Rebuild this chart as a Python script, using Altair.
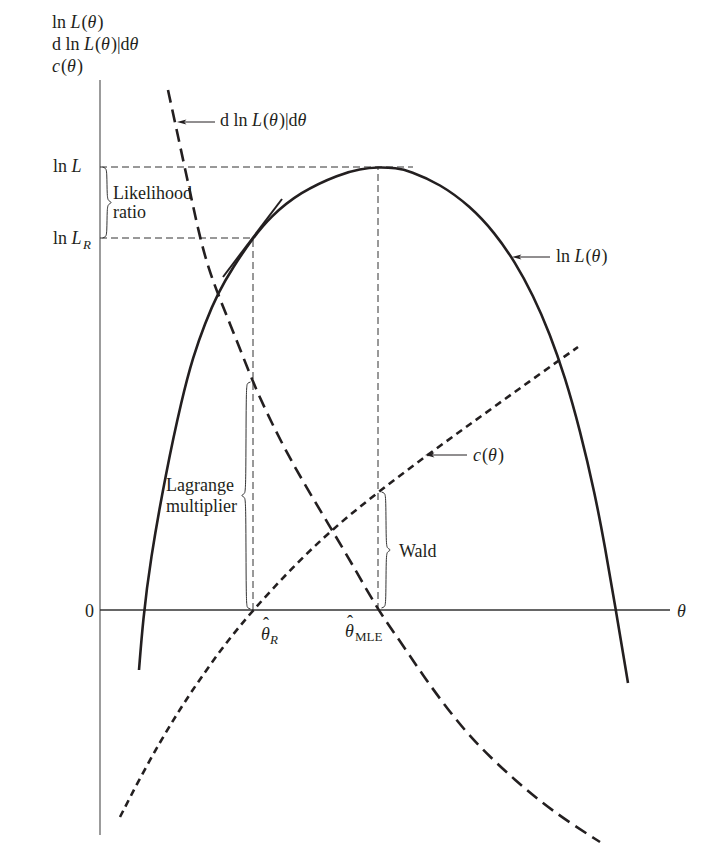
import altair as alt
import pandas as pd

# ---------------- data (diagram units: theta = distance right of the vertical axis,
#                  value = height above the theta axis) ----------------
lnL_theta = [39, 43, 50, 66, 82, 93, 105, 118, 133, 153, 170, 200, 240, 260, 278, 296, 310, 340,
             370, 395, 415, 433, 450, 465, 480, 495, 505, 515, 528]
lnL_value = [-60, -10, 48, 138, 212, 253, 287, 317, 343, 372, 393, 418, 436, 441, 443, 442, 439, 426,
             404, 377, 348, 315, 276, 233, 180, 116, 63, 5, -73]

dlnL_theta = [68, 76, 84, 92, 100, 109, 118, 130, 142, 153, 165, 190, 232, 255, 278, 300, 320, 340,
              365, 390, 415, 440, 467, 500]
dlnL_value = [520, 483, 446, 409, 372, 340, 316, 286, 256, 228, 201, 150, 80, 41, 0, -31, -61, -89,
              -121, -147, -170, -191, -211, -232]

c_theta = [20, 40, 60, 80, 100, 125, 153, 190, 230, 278, 330, 380, 430, 478]
c_value = [-207, -168, -132, -99, -69, -34, 0, 40, 79, 118, 157, 193, 229, 263]

theta_R = 153
theta_MLE = 278
lnL_max = 443
lnL_R = 372
lm_value = 228      # d lnL / d theta at theta_R
wald_value = 118    # c(theta) at theta_MLE

tangent_theta = [123, 182]
tangent_value = [333, 411]

yaxis_top, yaxis_bottom = 530, -225
xaxis_end = 570
guide_end = 313

# ---------------- layout ----------------
W, H = 705, 840
X_DOMAIN = [-92, 613]
Y_DOMAIN = [-238, 602]
INK = "#231f20"
FONT = "Liberation Serif"


def X(f="t"):
    return alt.X(f"{f}:Q", scale=alt.Scale(domain=X_DOMAIN, nice=False, zero=False), axis=None)


def Y(f="v"):
    return alt.Y(f"{f}:Q", scale=alt.Scale(domain=Y_DOMAIN, nice=False, zero=False), axis=None)


def curve(ts, vs, dash=None, width=2.6):
    df = pd.DataFrame({"t": ts, "v": vs, "i": list(range(len(ts)))})
    kw = dict(color=INK, strokeWidth=width, interpolate="basis")
    if dash:
        kw["strokeDash"] = dash
    return alt.Chart(df).mark_line(**kw).encode(x=X(), y=Y(), order="i:Q")


def segments(rows, **mk):
    df = pd.DataFrame(rows, columns=["t", "v", "t2", "v2"])
    return alt.Chart(df).mark_rule(**mk).encode(
        x=X(), y=Y(), x2=alt.X2("t2:Q"), y2=alt.Y2("v2:Q"))


layers = []

# axes
layers.append(segments([[0, yaxis_bottom, 0, yaxis_top]], color="#666666", strokeWidth=1.3))
layers.append(segments([[0, 0, xaxis_end, 0]], color="#333333", strokeWidth=1.3))

# dashed guides
layers.append(segments([
    [0, lnL_max, guide_end, lnL_max],
    [0, lnL_R, theta_R, lnL_R],
    [theta_R, 0, theta_R, lnL_R],
    [theta_MLE, 0, theta_MLE, lnL_max],
], color="#333333", strokeWidth=1, strokeDash=[7, 4]))

# curves
layers.append(curve(lnL_theta, lnL_value))
layers.append(curve(dlnL_theta, dlnL_value, dash=[13, 7]))
layers.append(curve(c_theta, c_value, dash=[7, 5]))
layers.append(segments([[tangent_theta[0], tangent_value[0], tangent_theta[1], tangent_value[1]]],
                       color=INK, strokeWidth=2))

# braces (body position, top, bottom, tip direction)
brace_specs = [("LR", 7, lnL_max, lnL_R, 1), ("LM", 146, lm_value, 1, -1), ("W", 286, wald_value, 2, 1)]
brows = []
for name, b, top, bot, d in brace_specs:
    m = (top + bot) / 2
    pts = [(b - 4.5 * d, top), (b - 1.5 * d, top - 1), (b, top - 4), (b, m + 5), (b + 1.5 * d, m + 1.5),
           (b + 5.5 * d, m), (b + 1.5 * d, m - 1.5), (b, m - 5), (b, bot + 4), (b - 1.5 * d, bot + 1),
           (b - 4.5 * d, bot)]
    for i, (t, v) in enumerate(pts):
        brows.append({"name": name, "i": i, "t": t, "v": v})
layers.append(alt.Chart(pd.DataFrame(brows)).mark_line(
    color="#333333", strokeWidth=1, interpolate="basis").encode(
    x=X(), y=Y(), detail="name:N", order="i:Q"))

# arrows (tail, tip, value)
arrow_specs = [(115, 77, 488), (450, 412, 353), (367, 325, 155)]
layers.append(segments([[a, v, b + 4, v] for a, b, v in arrow_specs], color=INK, strokeWidth=1))
ARROW = "M-1,0L1,-0.55L0.5,0L1,0.55Z"
layers.append(alt.Chart(pd.DataFrame({"t": [b + 4.7 for a, b, v in arrow_specs],
                                      "v": [v for a, b, v in arrow_specs]})).mark_point(
    shape=ARROW, filled=True, size=90, color=INK, opacity=1, strokeWidth=0).encode(x=X(), y=Y()))

# ---------------- texts ----------------
REG = {"l": .278, "n": .5, " ": .25, "(": .333, ")": .333, "|": .2, "d": .5}
ITA = {"L": .556, "θ": .5, "c": .444, "R": .611}

rows = []


def seq(pieces, t0, v, size=18):
    t = t0
    for txt, it in pieces:
        rows.append({"t": t, "v": v, "text": txt, "it": it, "size": size})
        tab = ITA if it else REG
        t += sum(tab.get(ch, .5) for ch in txt) * size + (1 if it else 0)


lnLth = [("ln ", False), ("L", True), ("(", False), ("θ", True), (")", False)]
dlnLth = [("d ln ", False), ("L", True), ("(", False), ("θ", True), (")|d", False), ("θ", True)]
cth = [("c", True), ("(", False), ("θ", True), (")", False)]

# top-left title
seq(lnLth, -48, 582)
seq(dlnLth, -48, 560)
seq(cth, -48, 538)
# curve labels
seq(dlnLth, 120, 484)
seq(lnLth, 456, 348)
seq(cth, 373, 149)
# axis labels
seq([("ln ", False), ("L", True)], -47, 438)
seq([("ln ", False), ("L", True)], -47, 366)
seq([("R", True)], -17, 361, 13)
seq([("0", False)], -15, -7)
seq([("θ", True)], 577, -7)
# theta hats
seq([("θ", True)], 161, -30)
seq([("R", True)], 170, -34, 13)
seq([("ˆ", False)], 163, -20)
seq([("θ", True)], 245, -27)
seq([("MLE", False)], 255, -31, 13)
seq([("ˆ", False)], 247, -18)
# test names
seq([("Likelihood", False)], 13, 411)
seq([("ratio", False)], 13, 392)
seq([("Lagrange", False)], 66, 119)
seq([("multiplier", False)], 66, 98)
seq([("Wald", False)], 299, 53)

tdf = pd.DataFrame(rows)
for (it, size), g in tdf.groupby(["it", "size"]):
    layers.append(alt.Chart(g.reset_index(drop=True)).mark_text(
        font=FONT, fontSize=int(size), fontStyle="italic" if it else "normal",
        align="left", baseline="alphabetic", color=INK).encode(x=X(), y=Y(), text="text:N"))

chart = alt.layer(*layers).properties(
    width=W, height=H, padding=0, autosize="none", background="white"
).configure_view(stroke=None)

chart.save("out.html", embed_options={"renderer": "svg", "actions": False})
